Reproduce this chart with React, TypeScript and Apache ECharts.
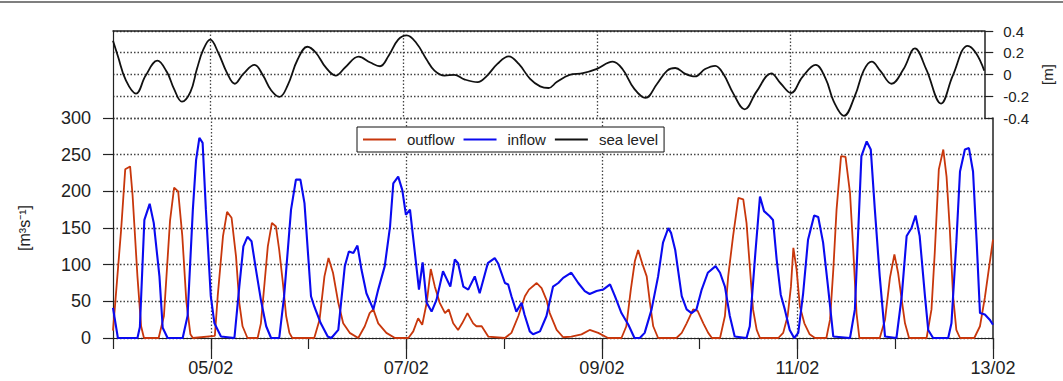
import React, { useEffect, useRef } from 'react';
import * as echarts from 'echarts';

// x values are hours since 04/02 00:00
const dayLabels = ['04/02', '05/02', '06/02', '07/02', '08/02', '09/02', '10/02', '11/02', '12/02', '13/02'];

const outflow: [number, number][] = [
  [0, 10], [2, 148], [3, 230], [4.2, 234], [4.8, 195], [6, 84], [6.9, 16], [7.6, 0],
  [11.2, 0], [12.5, 30], [14, 160], [15, 205], [16, 200], [17, 140], [18, 50], [19, 5], [19.6, 0],
  [25, 3], [25.7, 57], [27, 139], [28, 172], [29.1, 164], [30.2, 111], [31, 48], [31.8, 16], [33, 0],
  [35.5, 0], [36.3, 20], [37.2, 75], [38, 125], [39, 157], [40, 152], [40.8, 120], [41.7, 75], [42.5, 30], [43.3, 7], [44, 0],
  [49.4, 0], [50.7, 25], [51.9, 84], [52.9, 109], [54, 89], [55.3, 48], [56.5, 20], [58.1, 7], [60.2, 0],
  [61.8, 16], [63, 34], [63.9, 39], [65.1, 20], [67.1, 7], [69.2, 0], [72.5, 0],
  [73.7, 9], [74.9, 27], [75.9, 18], [77, 48], [78, 94], [79, 70], [80.2, 48], [81.5, 34], [82.4, 39], [83.5, 20],
  [84.7, 11], [85.7, 20], [87, 34], [88.4, 20], [89.2, 16], [90.5, 16], [92.1, 2], [96.2, 0],
  [97.8, 7], [99.5, 30], [101.1, 57], [102.1, 66], [104, 75], [105.2, 68], [106.4, 52], [107.2, 34], [108.9, 11], [110.5, 1],
  [112.5, 2], [115, 5], [117, 11], [119.1, 7], [121.5, 0], [124.8, 0],
  [126, 16], [127.1, 66], [128.1, 105], [128.9, 120], [130, 100], [131, 84], [131.8, 48], [132.6, 16], [133.8, 0],
  [138.3, 0], [139.6, 7], [140.8, 20], [142.4, 39], [143.5, 37], [144.9, 20], [146.1, 7], [147, 0],
  [149, 0], [150.2, 30], [151, 84], [152.2, 139], [153.5, 191], [154.7, 189], [155.5, 157], [156.3, 98], [157.1, 39], [158, 11], [158.8, 0],
  [163.3, 0], [164.5, 7], [165.6, 30], [166.4, 70], [167, 123], [167.8, 93], [168.6, 43], [169.7, 20], [171, 5], [172.3, 0],
  [175.1, 0], [176, 25], [176.8, 93], [177.6, 175], [178.7, 248], [179.8, 247], [180.9, 198], [181.7, 120], [182.5, 34], [183.2, 0],
  [188.2, 0], [189.5, 25], [190.7, 82], [191.8, 114], [192.7, 89], [193.6, 52], [194.4, 20], [195.4, 0],
  [199.7, 0], [200.9, 39], [201.7, 116], [202.7, 230], [203.8, 257], [204.6, 220], [205.4, 148], [206.2, 57], [207, 11], [207.9, 0],
  [211.4, 0], [212.8, 16], [214, 55], [215, 95], [216, 134],
];

const inflow: [number, number][] = [
  [0, 41], [1.2, 0], [6, 0], [6.6, 15], [7.7, 161], [9, 183], [10, 157], [11.4, 84], [12.2, 14], [13.4, 0],
  [17.1, 0], [18.3, 30], [19.6, 175], [20.4, 243], [21.2, 273], [22, 266], [22.8, 175], [24, 57], [24.9, 20], [26.5, 2],
  [29.8, 0], [31, 70], [32, 125], [33, 138], [34, 132], [35.1, 93], [36.3, 52], [37.6, 16], [38.8, 0],
  [40.8, 0], [42, 57], [43.7, 175], [44.9, 216], [46, 216], [47, 184], [48.6, 57], [49.4, 43], [51, 20], [52.7, 2],
  [53.6, 0], [55.3, 11], [56.9, 98], [57.9, 118], [59, 116], [60, 126], [61, 93], [62.2, 61], [63.9, 39],
  [65.1, 66], [66.7, 98], [68, 152], [68.8, 211], [70, 220], [71, 202], [71.9, 168], [72.9, 175], [74.1, 116],
  [75.1, 66], [76, 103], [77, 48], [78.2, 36], [79.4, 52], [81, 91], [82.8, 70], [83.9, 107], [84.7, 102],
  [86, 70], [87.2, 66], [88.8, 84], [90, 61], [92, 102], [93.7, 109], [94.5, 102], [96.2, 75], [97, 73],
  [97.8, 57], [99, 36], [100.3, 48], [101, 32], [102.3, 9], [103.1, 5], [104.8, 9], [106.4, 30],
  [108, 70], [109.3, 75], [110.5, 82], [112.5, 89], [114.2, 75], [115.8, 64], [117, 60], [118.7, 64],
  [120.3, 66], [122, 73], [123.2, 57], [124.8, 34], [126.5, 18], [128, 0], [129.3, 0], [130.5, 7],
  [132.2, 39], [133.8, 84], [135, 130], [136.3, 150], [137, 143], [138, 120], [139.6, 57], [140.8, 39],
  [142, 34], [143.2, 39], [144.5, 66], [146, 89], [147.9, 98], [149, 89], [150.2, 70], [151.4, 30], [152.6, 2],
  [155.5, 0], [156.3, 16], [157.6, 111], [158.8, 193], [159.8, 173], [161.2, 166], [162, 161], [162.9, 107],
  [163.9, 59], [164.9, 39], [166.1, 11], [167.2, 0], [168.2, 7], [169.4, 61], [170.6, 134], [172.1, 167],
  [173.1, 165], [174.3, 130], [175.5, 70], [176.8, 2], [180.9, 0], [182.1, 39], [183.7, 248], [185, 268],
  [186, 257], [187, 175], [188.2, 84], [189.5, 2], [192.3, 0], [193.6, 57], [194.8, 139], [196, 150],
  [197, 167], [198, 139], [199.3, 57], [200.1, 11], [201.3, 0], [205, 0], [205.8, 20], [207, 130],
  [207.9, 227], [209.1, 257], [210.1, 259], [211.1, 227], [212, 130], [212.8, 34], [214, 32], [215.2, 25], [216, 18],
];

const seaLevel: [number, number][] = [
  [0, 0.31], [1.2, 0.17], [3.2, -0.055], [5.7, -0.176], [8.1, -0.01], [11, 0.127], [13.4, 0.02], [15.1, -0.13],
  [17.1, -0.25], [19.2, -0.16], [20.8, 0.05], [22.4, 0.23], [24.1, 0.32], [26.1, 0.2], [28.2, 0.02], [30.2, -0.085],
  [32.3, 0.006], [35.1, 0.088], [37.2, -0.01], [39.2, -0.145], [41.3, -0.206], [43.3, -0.1], [45.8, 0.14],
  [48.2, 0.255], [50.3, 0.2], [52.7, 0.067], [55.2, -0.01], [57.6, 0.067], [60.9, 0.164], [63.8, 0.11],
  [66.2, 0.076], [68.3, 0.17], [70.7, 0.32], [72.8, 0.36], [75.2, 0.29], [77.7, 0.14], [79.7, 0.036],
  [82.2, -0.01], [84.6, -0.003], [87.1, -0.045], [90.4, -0.07], [92.4, -0.024], [95.3, 0.097], [98.1, 0.167],
  [100.6, 0.097], [103.4, -0.04], [105.9, -0.109], [108, -0.124], [110, -0.07], [113.2, -0.003], [116.5, 0.012],
  [119.8, 0.05], [123.9, 0.118], [126.3, 0.05], [129.2, -0.13], [132, -0.215], [134.9, -0.085], [137.4, 0.036],
  [139.4, 0.06], [141.9, 0.006], [144.3, -0.018], [146.8, 0.05], [149.3, 0.08], [151.3, 0.006], [153.8, -0.176],
  [156.6, -0.32], [159.5, -0.16], [163.2, 0.01], [165.6, -0.085], [168.1, -0.17], [170.9, -0.024], [174.2, 0.088],
  [176.7, -0.04], [178.7, -0.25], [181.2, -0.38], [184, -0.19], [186.1, 0.036], [188.1, 0.118], [190.2, 0.036],
  [193, -0.085], [196, 0.05], [198.8, 0.24], [201.6, 0.05], [205.3, -0.267], [208.2, -0.01], [211.9, 0.264],
  [213.9, 0.2], [216, 0.036],
];

const FONT = "'Liberation Sans', Arial, Helvetica, sans-serif";
const GRID_DOT = { color: '#444', width: 1.3, type: [1.5, 2] as any };
const isMajor = (i: number) => i % 2 === 1;
const isInnerMajor = (i: number) => i % 2 === 1 && i < dayLabels.length - 1;

export default function App() {
  const ref = useRef<HTMLDivElement>(null);
  useEffect(() => {
    if (!ref.current) return;
    const chart = echarts.init(ref.current, undefined, { renderer: 'svg' });
    chart.setOption({
      animation: false,
      backgroundColor: '#fff',
      textStyle: { fontFamily: FONT },
      graphic: [
        { type: 'line', shape: { x1: 0, y1: 2, x2: 1063, y2: 2 }, style: { stroke: '#555', lineWidth: 1.5 } },
      ],
      grid: [
        { left: 113, right: 70, top: 31, height: 87 },
        { left: 113, right: 70, top: 118, height: 220 },
      ],
      legend: {
        left: 357,
        top: 127,
        orient: 'horizontal',
        data: ['outflow', 'inflow', 'sea level'],
        backgroundColor: '#fff',
        borderColor: '#111',
        borderWidth: 1,
        borderRadius: 0,
        padding: [5, 6, 5, 5],
        itemWidth: 33,
        itemHeight: 14,
        itemGap: 8,
        itemStyle: { opacity: 0 },
        textStyle: { fontSize: 15, color: '#222', fontFamily: FONT, padding: [0, 0, 0, 6] },
      },
      xAxis: [
        { type: 'value', gridIndex: 0, min: 0, max: 216, show: false },
        { type: 'value', gridIndex: 1, min: 0, max: 216, show: false },
        {
          type: 'category', gridIndex: 0, position: 'top', data: dayLabels, boundaryGap: false,
          axisLine: { show: true, onZero: false, lineStyle: { color: '#222', width: 1.5 } },
          axisTick: { show: false }, axisLabel: { show: false },
          splitLine: { show: true, interval: (i: number) => isInnerMajor(i), lineStyle: GRID_DOT },
        },
        {
          type: 'category', gridIndex: 1, position: 'bottom', data: dayLabels, boundaryGap: false,
          axisLine: { show: true, onZero: false, lineStyle: { color: '#222', width: 1.2 } },
          axisTick: { show: true, interval: 0, length: 11, lineStyle: { color: '#222', width: 1.2 } },
          axisLabel: {
            show: true, interval: (i: number) => isMajor(i), margin: 21,
            fontSize: 18, color: '#222', fontFamily: FONT,
          },
          splitLine: { show: true, interval: (i: number) => isInnerMajor(i), lineStyle: GRID_DOT },
        },
        {
          type: 'category', gridIndex: 1, position: 'bottom', data: dayLabels, boundaryGap: false,
          axisLine: { show: false, onZero: false },
          axisTick: { show: true, interval: (i: number) => isMajor(i), length: 21, lineStyle: { color: '#222', width: 1.2 } },
          axisLabel: { show: false }, splitLine: { show: false },
        },
      ],
      yAxis: [
        {
          type: 'value', gridIndex: 0, position: 'right', min: -0.4, max: 0.4, interval: 0.2,
          axisLine: { show: true, onZero: false, lineStyle: { color: '#222', width: 1.5 } },
          axisTick: { show: true, length: 9, lineStyle: { color: '#222', width: 1.2 } },
          axisLabel: { fontSize: 15, color: '#222', margin: 19, fontFamily: FONT },
          splitLine: { show: true, lineStyle: GRID_DOT },
          name: '[m]', nameLocation: 'middle', nameRotate: 90, nameGap: 53,
          nameTextStyle: { fontSize: 15, color: '#222', fontFamily: FONT },
        },
        {
          type: 'value', gridIndex: 0, position: 'left', min: -0.4, max: 0.4,
          axisLine: { show: true, onZero: false, lineStyle: { color: '#222', width: 1.2 } },
          axisTick: { show: false }, axisLabel: { show: false }, splitLine: { show: false },
        },
        {
          type: 'value', gridIndex: 1, position: 'left', min: 0, max: 300, interval: 50,
          axisLine: { show: true, onZero: false, lineStyle: { color: '#222', width: 1.2 } },
          axisTick: { show: true, length: 10, lineStyle: { color: '#222', width: 1.2 } },
          axisLabel: { fontSize: 18, color: '#222', margin: 22, fontFamily: FONT },
          splitLine: { show: true, lineStyle: GRID_DOT },
          name: '[m³s⁻¹]', nameLocation: 'middle', nameRotate: 90, nameGap: 81,
          nameTextStyle: { fontSize: 16, color: '#222', fontFamily: FONT },
        },
        {
          type: 'value', gridIndex: 1, position: 'right', min: 0, max: 300,
          axisLine: { show: true, onZero: false, lineStyle: { color: '#222', width: 1.5 } },
          axisTick: { show: false }, axisLabel: { show: false }, splitLine: { show: false },
        },
      ],
      series: [
        {
          name: 'outflow', type: 'line', xAxisIndex: 1, yAxisIndex: 2, data: outflow,
          symbol: 'none', color: '#c8370c', lineStyle: { color: '#c8370c', width: 1.8 }, z: 3,
        },
        {
          name: 'inflow', type: 'line', xAxisIndex: 1, yAxisIndex: 2, data: inflow,
          symbol: 'none', color: '#0a0af0', lineStyle: { color: '#0a0af0', width: 2.1 }, z: 4,
        },
        {
          name: 'sea level', type: 'line', xAxisIndex: 0, yAxisIndex: 0, data: seaLevel,
          symbol: 'none', smooth: 0.4, color: '#111', lineStyle: { color: '#111', width: 1.8 }, z: 3,
        },
      ],
    });
    return () => chart.dispose();
  }, []);
  return <div ref={ref} style={{ position: 'absolute', left: 0, top: 0, width: 1063, height: 381 }} />;
}
